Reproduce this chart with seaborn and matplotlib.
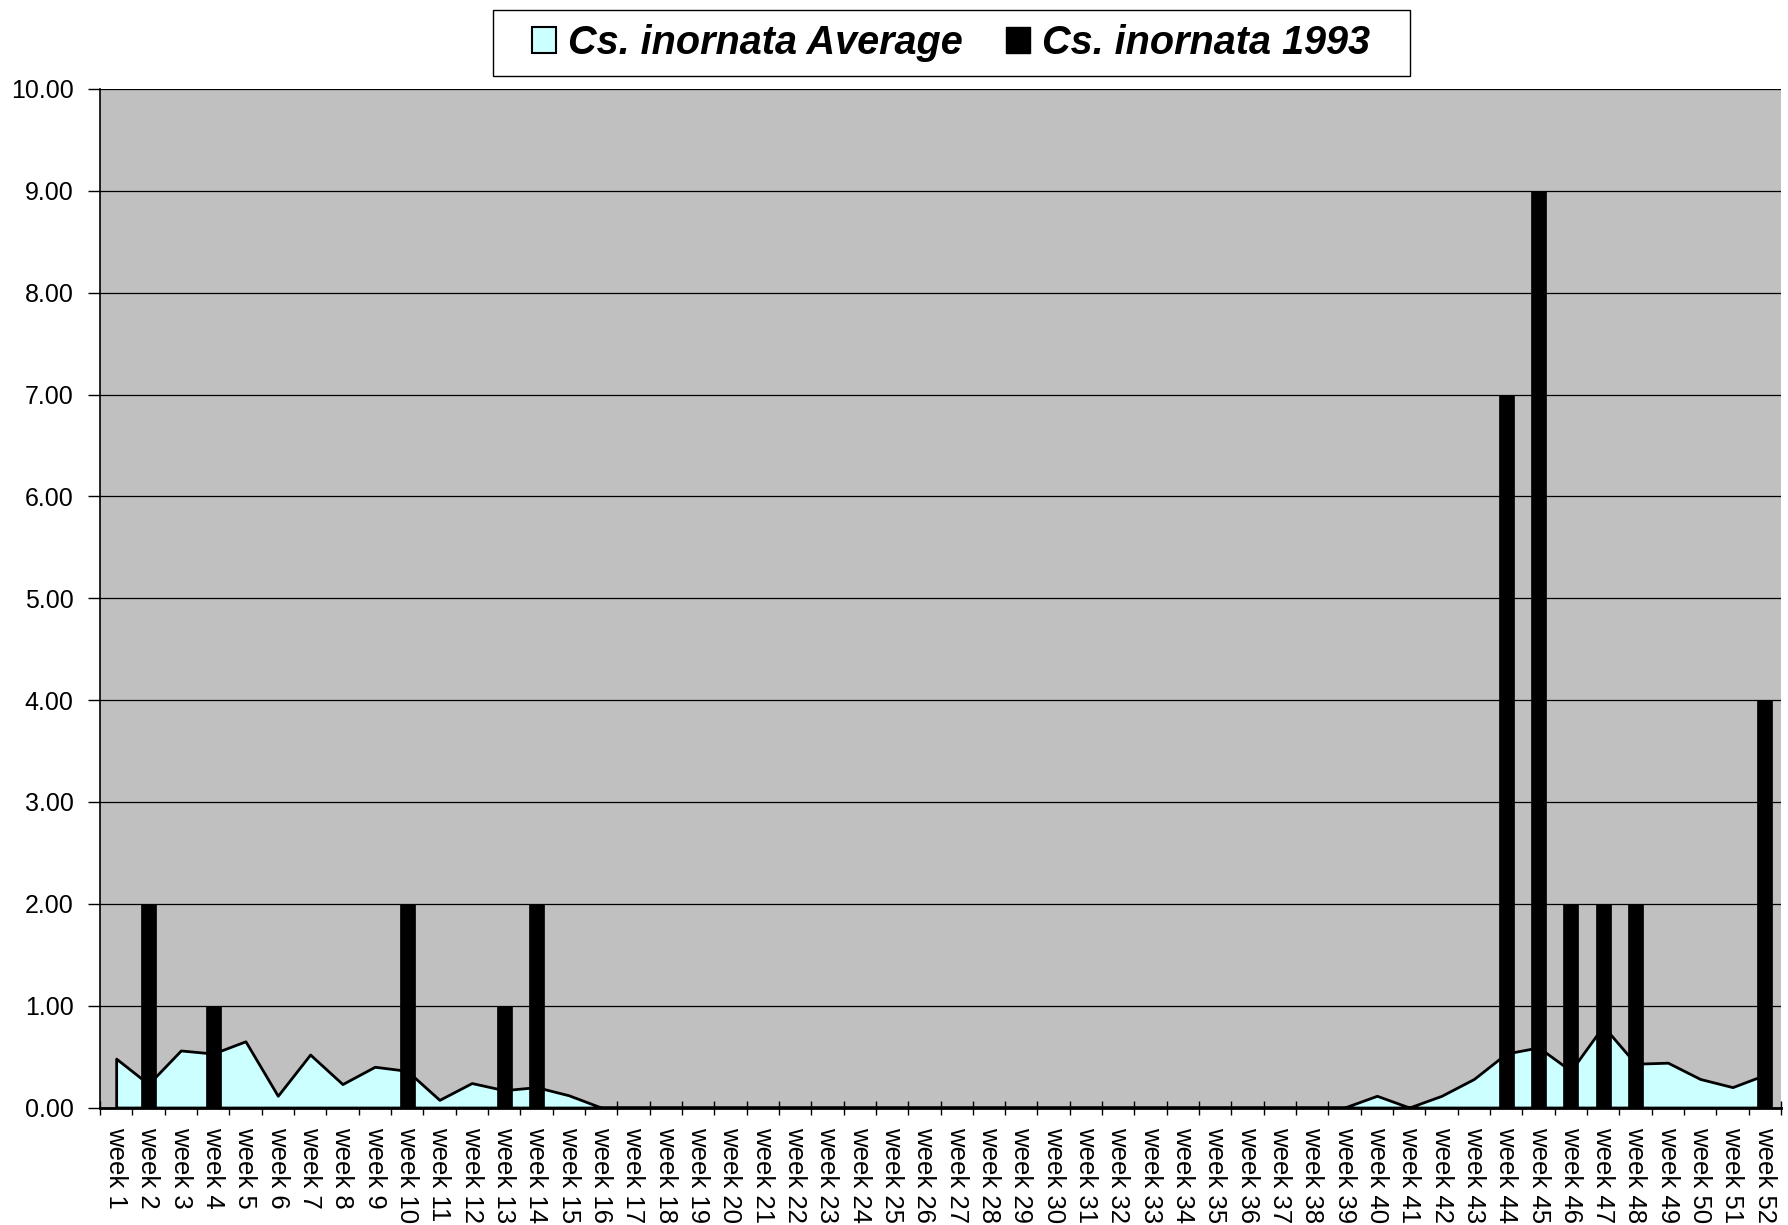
import matplotlib
matplotlib.use("Agg")
import matplotlib.pyplot as plt
import seaborn as sns
import numpy as np
import pandas as pd
from matplotlib.patches import Patch, Rectangle

weeks = [f"week {i}" for i in range(1, 53)]

avg_values = [0.48, 0.23, 0.56, 0.53, 0.65, 0.115, 0.52, 0.23, 0.40, 0.36,
              0.075, 0.24, 0.17, 0.20, 0.12, 0.0, 0.0, 0.0, 0.0, 0.0,
              0.0, 0.0, 0.0, 0.0, 0.0, 0.0, 0.0, 0.0, 0.0, 0.0,
              0.0, 0.0, 0.0, 0.0, 0.0, 0.0, 0.0, 0.0, 0.0, 0.115,
              0.0, 0.115, 0.28, 0.53, 0.59, 0.36, 0.80, 0.43, 0.44, 0.28,
              0.20, 0.32]

y1993_values = [0, 2, 0, 1, 0, 0, 0, 0, 0, 2,
                0, 0, 1, 2, 0, 0, 0, 0, 0, 0,
                0, 0, 0, 0, 0, 0, 0, 0, 0, 0,
                0, 0, 0, 0, 0, 0, 0, 0, 0, 0,
                0, 0, 0, 7, 9, 2, 2, 2, 0, 0,
                0, 4]

yticks = [0, 1, 2, 3, 4, 5, 6, 7, 8, 9, 10]
label_avg = "Cs. inornata Average"
label_1993 = "Cs. inornata 1993"

df = pd.DataFrame({"week": weeks, "avg": avg_values, "y1993": y1993_values})

sns.set_theme(style="white")
plt.rcParams["font.family"] = ["Liberation Sans", "DejaVu Sans"]
plt.rcParams["text.color"] = "black"
plt.rcParams["xtick.color"] = "black"
plt.rcParams["ytick.color"] = "black"
plt.rcParams["axes.labelcolor"] = "black"

W, H = 1788, 1225
fig = plt.figure(figsize=(W / 100, H / 100), dpi=100)
ax = fig.add_axes([100 / W, 1 - 1107.5 / H, 1681 / W, (1107.5 - 89) / H])
ax.set_facecolor("#C0C0C0")

pos = np.arange(len(weeks))
ax.fill_between(pos, df["avg"], 0, facecolor="#CCFFFF", edgecolor="black",
                linewidth=2, zorder=2)

sns.barplot(data=df, x="week", y="y1993", color="black", width=0.46,
            saturation=1, edgecolor="black", linewidth=0.5, ax=ax, zorder=3)

ax.set_xlim(-0.5, len(weeks) - 0.5)
ax.set_ylim(0, 10)
ax.set_yticks(yticks)
ax.set_yticklabels([f"{v:.2f}" for v in yticks], fontsize=18, color="black")
ax.yaxis.grid(True, color="black", linewidth=0.9, zorder=0)
ax.set_axisbelow(True)

ax.set_xticks(pos)
ax.set_xticklabels(weeks, rotation=270, fontsize=18.5, va="top", ha="center", color="black")
ax.set_xticks(np.arange(-0.5, len(weeks), 1.0), minor=True)
ax.tick_params(axis="x", which="major", length=0, pad=14)
ax.tick_params(axis="x", which="minor", length=10, direction="inout",
               width=1, color="black", bottom=True)
ax.tick_params(axis="y", which="major", length=9, direction="out",
               width=1, color="black", left=True, pad=10)
ax.set_xlabel("")
ax.set_ylabel("")

for s in ["top", "right"]:
    ax.spines[s].set_visible(False)
ax.spines["left"].set_color("black")
ax.spines["left"].set_linewidth(1.2)
ax.spines["bottom"].set_color("black")
ax.spines["bottom"].set_linewidth(2)

# legend frame box
fig.patches.append(Rectangle((493 / W, 1 - 76 / H), (1410 - 493) / W, 66 / H,
                             transform=fig.transFigure, facecolor="white",
                             edgecolor="black", linewidth=1, zorder=1))

handles = [Patch(facecolor="#CCFFFF", edgecolor="black", linewidth=1.5, label=label_avg),
           Patch(facecolor="black", edgecolor="black", label=label_1993)]
leg = fig.legend(handles=handles, loc="center", bbox_to_anchor=(951 / W, 1 - 43 / H),
                 ncol=2, frameon=False,
                 prop={"family": "Liberation Sans", "weight": "bold", "style": "italic", "size": 28.5},
                 handlelength=0.6, handleheight=0.6, handletextpad=0.3,
                 columnspacing=1.1, borderpad=0.3, borderaxespad=0,
                 labelcolor="black")
leg.set_zorder(5)

fig.savefig("out.png", dpi=100, facecolor="white")
